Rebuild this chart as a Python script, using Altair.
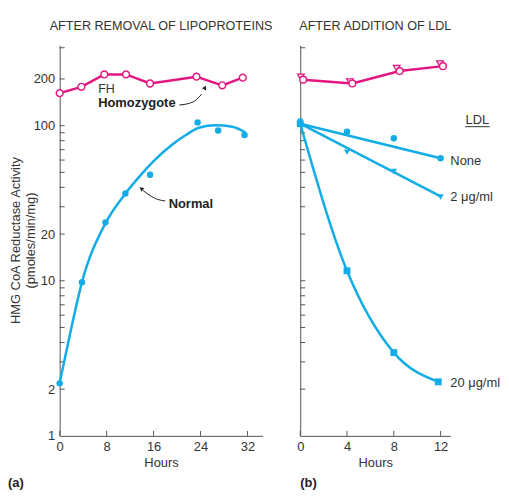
import altair as alt
import pandas as pd

PINK = "#e3157f"
BLUE = "#12ace6"
TXT = "#333333"
AX = "#555555"
FONT = "Liberation Sans"

# ---------- panel (a): after removal of lipoproteins ----------
fh_a_hours = [0, 3.7, 7.6, 11.3, 15.4, 23.3, 27.7, 31.2]
fh_a_vals = [162, 178, 214, 214, 187, 207, 182, 204]
norm_hours = [0, 3.8, 7.8, 11.2, 15.4, 23.5, 27, 31.5]
norm_vals = [2.18, 9.8, 23.8, 36.5, 48.3, 105, 93, 87]
norm_curve_hours = [0, 1.9, 3.8, 7.8, 11.2, 13.8, 16, 19.2, 21.5, 23.7, 26.6, 29.4, 31.6]
norm_curve_vals = [2.2, 4.8, 9.8, 23.5, 36.5, 48, 59, 75.5, 87, 97, 100.5, 98.5, 90.6]

# ---------- panel (b): after addition of LDL ----------
fh_b_circle_hours = [0.25, 4.45, 8.5, 12.2]
fh_b_circle_vals = [198, 187, 225, 242]
fh_b_tri_hours = [0.05, 4.25, 8.25, 11.95]
fh_b_tri_vals = [206, 192, 234, 251]
ldl_hours = [0, 4, 8, 12]
none_vals = [103, 91.5, 83, 61.7]
none_fit_hours = [0, 12]
none_fit_vals = [103, 61.7]
two_vals = [107, 67.5, 50.7, 34.7]
two_fit_hours = [0, 12]
two_fit_vals = [103, 35]
twenty_hours = [0, 4, 8, 11.8]
twenty_vals = [103, 11.6, 3.44, 2.23]

y_tick_values = [2, 3, 4, 5, 6, 7, 8, 9, 10, 20, 30, 40, 50, 60, 70, 80, 90, 100, 200, 318]
y_label_values = [1, 2, 10, 20, 100, 200]
x_ticks_a = [0, 8, 16, 24, 32]
x_ticks_b = [0, 4, 8, 12]
y_title_lines = ["HMG CoA Reductase Activity", "(pmoles/min/mg)"]

# annotation arrows (data coordinates)
homo_arrow_hours = [20.4, 22.0, 23.3, 24.2]
homo_arrow_vals = [136, 139, 147, 160]
homo_head = {"h": [24.75], "v": [176], "a": [27]}
normal_arrow_hours = [18.0, 16.3, 14.85, 14.2]
normal_arrow_vals = [32.7, 33.9, 36.6, 38.2]
normal_head = {"h": [13.9], "v": [39.3], "a": [307]}

H = 393
W_A = 204
W_B = 151
YS = alt.Scale(type="log", domain=[1, 330], nice=False)
XSA = alt.Scale(domain=[0, 34.55], nice=False, zero=False)
XSB = alt.Scale(domain=[0, 12.83], nice=False, zero=False)

yaxis_a = alt.Axis(values=y_label_values, format="d", ticks=False, tickSize=0,
                   labelPadding=5, grid=False, title=None)
yaxis_b = alt.Axis(values=y_label_values, labels=False, ticks=False, tickSize=0,
                   grid=False, title=None)
xaxis_a = alt.Axis(values=x_ticks_a, ticks=False, tickSize=0, labelPadding=5,
                   labelFlush=False, grid=False, title="Hours", titlePadding=3)
xaxis_b = alt.Axis(values=x_ticks_b, ticks=False, tickSize=0, labelPadding=5,
                   labelFlush=False, grid=False, title="Hours", titlePadding=3)


def df(hours, vals):
    return pd.DataFrame({"h": hours, "v": vals})


def enc_for(xs, xaxis, yaxis):
    def X():
        return alt.X("h:Q", scale=xs, axis=xaxis)

    def Y():
        return alt.Y("v:Q", scale=YS, axis=yaxis)
    return X, Y


XA, YA = enc_for(XSA, xaxis_a, yaxis_a)
XB, YB = enc_for(XSB, xaxis_b, yaxis_b)


def tick_layers(X, Y, xticks):
    ty = alt.Chart(pd.DataFrame({"v": y_tick_values, "h": [0] * len(y_tick_values)})).mark_rule(
        color=AX, strokeWidth=1).encode(y=Y(), x=alt.value(0), x2=alt.value(5))
    tx = alt.Chart(pd.DataFrame({"h": xticks, "v": [1] * len(xticks)})).mark_rule(
        color=AX, strokeWidth=1).encode(x=X(), y=alt.value(H), y2=alt.value(H - 5))
    return [ty, tx]


# ----- panel a layers -----
a = tick_layers(XA, YA, x_ticks_a)
a.append(alt.Chart(df(norm_curve_hours, norm_curve_vals)).mark_line(
    color=BLUE, strokeWidth=2.5, interpolate="monotone").encode(x=XA(), y=YA()))
a.append(alt.Chart(df(norm_hours, norm_vals)).mark_circle(
    color=BLUE, size=42, opacity=1).encode(x=XA(), y=YA()))
a.append(alt.Chart(df(fh_a_hours, fh_a_vals)).mark_line(
    color=PINK, strokeWidth=2.5).encode(x=XA(), y=YA()))
a.append(alt.Chart(df(fh_a_hours, fh_a_vals)).mark_point(
    shape="circle", filled=True, fill="white", stroke=PINK, strokeWidth=1.4,
    size=48, opacity=1).encode(x=XA(), y=YA()))
a.append(alt.Chart(df(homo_arrow_hours, homo_arrow_vals)).mark_line(
    color="#222", strokeWidth=1, interpolate="monotone").encode(x=XA(), y=YA()))
a.append(alt.Chart(pd.DataFrame(homo_head)).mark_point(
    shape="triangle-up", filled=True, color="#222", size=22, opacity=1).encode(
    x=XA(), y=YA(), angle=alt.Angle("a:Q", scale=None)))
a.append(alt.Chart(df(normal_arrow_hours, normal_arrow_vals)).mark_line(
    color="#222", strokeWidth=1, interpolate="monotone").encode(x=XA(), y=YA()))
a.append(alt.Chart(pd.DataFrame(normal_head)).mark_point(
    shape="triangle-up", filled=True, color="#222", size=22, opacity=1).encode(
    x=XA(), y=YA(), angle=alt.Angle("a:Q", scale=None)))
ann_a = pd.DataFrame({
    "h": [6.55, 6.55, 18.57],
    "v": [163, 132, 29.4],
    "t": ["FH", "Homozygote", "Normal"],
    "w": ["normal", "bold", "bold"],
})
a.append(alt.Chart(ann_a[ann_a.w == "normal"]).mark_text(
    align="left", baseline="alphabetic", font=FONT, fontSize=12.5, color=TXT).encode(
    x=XA(), y=YA(), text="t:N"))
a.append(alt.Chart(ann_a[ann_a.w == "bold"]).mark_text(
    align="left", baseline="alphabetic", font=FONT, fontSize=13, fontWeight="bold",
    color="#222").encode(x=XA(), y=YA(), text="t:N"))
a.append(alt.Chart(pd.DataFrame({"t": ["AFTER REMOVAL OF LIPOPROTEINS"]})).mark_text(
    align="center", baseline="alphabetic", font=FONT, fontSize=12.7, color=TXT).encode(
    x=alt.value(W_A / 2), y=alt.value(-15), text="t:N"))
# y axis title (two rotated lines)
a.append(alt.Chart(pd.DataFrame({"t": [y_title_lines[0]]})).mark_text(
    align="center", baseline="middle", angle=270, font=FONT, fontSize=13, color=TXT).encode(
    x=alt.value(-43.5), y=alt.value(H / 2), text="t:N"))
a.append(alt.Chart(pd.DataFrame({"t": [y_title_lines[1]]})).mark_text(
    align="center", baseline="middle", angle=270, font=FONT, fontSize=13, color=TXT).encode(
    x=alt.value(-29), y=alt.value(H / 2), text="t:N"))
a.append(alt.Chart(pd.DataFrame({"t": ["(a)"]})).mark_text(
    align="left", baseline="alphabetic", font=FONT, fontSize=13, fontWeight="bold",
    color="#222").encode(x=alt.value(-52), y=alt.value(H + 51), text="t:N"))

left = alt.layer(*a).properties(width=W_A, height=H)

# ----- panel b layers -----
b = tick_layers(XB, YB, x_ticks_b)
b.append(alt.Chart(df(fh_b_circle_hours, fh_b_circle_vals)).mark_line(
    color=PINK, strokeWidth=2.5).encode(x=XB(), y=YB()))
b.append(alt.Chart(df(fh_b_tri_hours, fh_b_tri_vals)).mark_point(
    shape="triangle-down", filled=True, fill="white", stroke=PINK, strokeWidth=1.3,
    size=45, opacity=1).encode(x=XB(), y=YB()))
b.append(alt.Chart(df(fh_b_circle_hours, fh_b_circle_vals)).mark_point(
    shape="circle", filled=True, fill="white", stroke=PINK, strokeWidth=1.4,
    size=45, opacity=1).encode(x=XB(), y=YB()))
b.append(alt.Chart(df(none_fit_hours, none_fit_vals)).mark_line(
    color=BLUE, strokeWidth=2.5).encode(x=XB(), y=YB()))
b.append(alt.Chart(df(two_fit_hours, two_fit_vals)).mark_line(
    color=BLUE, strokeWidth=2.5).encode(x=XB(), y=YB()))
b.append(alt.Chart(df(twenty_hours, twenty_vals)).mark_line(
    color=BLUE, strokeWidth=2.5, interpolate="monotone").encode(x=XB(), y=YB()))
b.append(alt.Chart(df(ldl_hours, none_vals)).mark_circle(
    color=BLUE, size=42, opacity=1).encode(x=XB(), y=YB()))
b.append(alt.Chart(df(ldl_hours, two_vals)).mark_point(
    shape="triangle-down", filled=True, color=BLUE, size=40, opacity=1).encode(x=XB(), y=YB()))
b.append(alt.Chart(df(twenty_hours, twenty_vals)).mark_square(
    color=BLUE, size=48, opacity=1).encode(x=XB(), y=YB()))
ann_b = pd.DataFrame({
    "h": [12.83, 12.83, 12.83],
    "v": [58.8, 34.5, 2.19],
    "t": ["None", "2 \u03bcg/ml", "20 \u03bcg/ml"],
})
b.append(alt.Chart(ann_b).mark_text(
    align="left", baseline="middle", font=FONT, fontSize=13, color=TXT).encode(
    x=XB(), y=YB(), text="t:N"))
b.append(alt.Chart(pd.DataFrame({"h": [15.15], "v": [103], "t": ["LDL"]})).mark_text(
    align="center", baseline="alphabetic", font=FONT, fontSize=13, color=TXT).encode(
    x=XB(), y=YB(), text="t:N"))
b.append(alt.Chart(pd.DataFrame({"h": [14.1], "h2": [16.2], "v": [98.5]})).mark_rule(
    color=TXT, strokeWidth=1).encode(x=XB(), x2="h2:Q", y=YB()))
b.append(alt.Chart(pd.DataFrame({"t": ["AFTER ADDITION OF LDL"]})).mark_text(
    align="center", baseline="alphabetic", font=FONT, fontSize=12.7, color=TXT).encode(
    x=alt.value(W_B / 2), y=alt.value(-15), text="t:N"))
b.append(alt.Chart(pd.DataFrame({"t": ["(b)"]})).mark_text(
    align="left", baseline="alphabetic", font=FONT, fontSize=13, fontWeight="bold",
    color="#222").encode(x=alt.value(0), y=alt.value(H + 51), text="t:N"))

right = alt.layer(*b).properties(width=W_B, height=H)

chart = alt.hconcat(left, right, spacing=38, bounds="flush").properties(
    padding={"left": 0, "top": 11, "right": 0, "bottom": 0}
).configure_view(stroke=None).configure_axis(
    labelFont=FONT, labelFontSize=13, labelColor=TXT,
    titleFont=FONT, titleFontSize=13, titleColor=TXT, titleFontWeight="normal",
    domainColor=AX, domainWidth=1, grid=False,
)

chart.save("out.html", embed_options={"renderer": "svg", "actions": False})
